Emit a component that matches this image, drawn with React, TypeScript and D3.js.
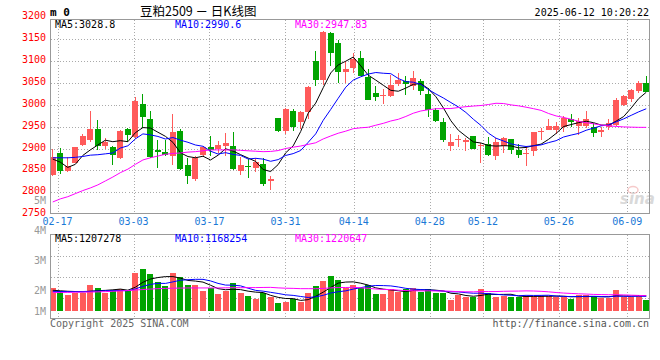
import React from 'react';
import * as d3 from 'd3';

// ---------- data ----------
const dates = [
  '02-14', '02-17', '02-18', '02-19', '02-20', '02-21', '02-24', '02-25', '02-26', '02-27',
  '02-28', '03-03', '03-04', '03-05', '03-06', '03-07', '03-10', '03-11', '03-12', '03-13',
  '03-14', '03-17', '03-18', '03-19', '03-20', '03-21', '03-24', '03-25', '03-26', '03-27',
  '03-28', '03-31', '04-01', '04-02', '04-03', '04-07', '04-08', '04-09', '04-10', '04-11',
  '04-14', '04-15', '04-16', '04-17', '04-18', '04-21', '04-22', '04-23', '04-24', '04-25',
  '04-28', '04-29', '04-30', '05-06', '05-07', '05-08', '05-09', '05-12', '05-13', '05-14',
  '05-15', '05-16', '05-19', '05-20', '05-21', '05-22', '05-23', '05-26', '05-27', '05-28',
  '05-29', '05-30', '06-03', '06-04', '06-05', '06-06', '06-09', '06-10', '06-11', '06-12',
];

const opens = [
  2840, 2891, 2849, 2868, 2908, 2920, 2944, 2905, 2903, 2878,
  2945, 2926, 3002, 2968, 2897, 2892, 2884, 2941, 2862, 2830,
  2885, 2903, 2899, 2906, 2906, 2849, 2860, 2855, 2865, 2826,
  2970, 2941, 2987, 2960, 2983, 3101, 3056, 3164, 3142, 3076,
  3084, 3107, 3064, 3028, 3020, 3020, 3048, 3054, 3042, 3055,
  3025, 2988, 2960, 2905, 2920, 2916, 2928, 2905, 2911, 2884,
  2906, 2921, 2897, 2889, 2895, 2937, 2943, 2943, 2949, 2968,
  2952, 2951, 2950, 2938, 2949, 2954, 3000, 3014, 3031, 3051,
];
const highs = [
  2898, 2901, 2880, 2904, 2933, 2986, 2966, 2925, 2906, 2943,
  2948, 3018, 3025, 2985, 2919, 2920, 2980, 2945, 2878, 2882,
  2906, 2929, 2918, 2935, 2937, 2880, 2876, 2878, 2878, 2838,
  2971, 2993, 2990, 2987, 3043, 3123, 3170, 3166, 3148, 3100,
  3119, 3124, 3082, 3042, 3036, 3068, 3072, 3065, 3077, 3060,
  3038, 2993, 2970, 2934, 2932, 2924, 2929, 2913, 2927, 2925,
  2926, 2922, 2911, 2907, 2938, 2948, 2968, 2960, 2975, 2979,
  2970, 2987, 2958, 2949, 2968, 3015, 3023, 3036, 3055, 3067,
];
const lows = [
  2837, 2843, 2847, 2866, 2906, 2916, 2897, 2900, 2862, 2876,
  2914, 2922, 2947, 2878, 2855, 2883, 2862, 2850, 2820, 2826,
  2882, 2884, 2889, 2882, 2852, 2840, 2833, 2846, 2814, 2806,
  2938, 2933, 2940, 2944, 2968, 3042, 3046, 3090, 3051, 3051,
  3074, 3065, 3010, 3008, 3001, 3018, 3042, 3023, 3034, 3022,
  2973, 2960, 2916, 2895, 2903, 2895, 2898, 2866, 2883, 2874,
  2889, 2888, 2879, 2861, 2884, 2920, 2942, 2933, 2939, 2949,
  2931, 2948, 2926, 2926, 2943, 2952, 2998, 3006, 3027, 3031,
];
const closes = [
  2881, 2849, 2860, 2903, 2929, 2944, 2905, 2915, 2886, 2941,
  2932, 3008, 2973, 2881, 2893, 2885, 2939, 2854, 2838, 2879,
  2903, 2896, 2908, 2912, 2853, 2862, 2857, 2870, 2819, 2830,
  2941, 2991, 2950, 2983, 3040, 3056, 3167, 3119, 3075, 3082,
  3104, 3066, 3012, 3019, 3023, 3046, 3056, 3048, 3062, 3031,
  2988, 2964, 2920, 2915, 2922, 2920, 2899, 2908, 2886, 2916,
  2924, 2897, 2885, 2891, 2937, 2941, 2952, 2952, 2970, 2960,
  2963, 2968, 2935, 2943, 2958, 3011, 3020, 3033, 3050, 3030,
];
const volumes = [
  1850000, 1600000, 1280000, 1460000, 1460000, 2090000, 1850000, 1410000, 1680000, 1760000,
  1630000, 3090000, 3390000, 3010000, 2360000, 2010000, 3090000, 2760000, 2090000, 2090000,
  1600000, 1820000, 1380000, 1630000, 2280000, 1460000, 1200000, 980000, 1460000, 1140000,
  650000, 730000, 930000, 730000, 1460000, 2010000, 2410000, 2850000, 2500000, 1870000,
  2090000, 1870000, 2090000, 1360000, 1360000, 1760000, 1540000, 1740000, 1850000, 1540000,
  1800000, 1400000, 1460000, 900000, 1280000, 1140000, 1090000, 1800000, 1400000, 1140000,
  1200000, 1140000, 1090000, 1200000, 1200000, 1200000, 1200000, 1140000, 1140000, 980000,
  1250000, 1250000, 1140000, 1010000, 1010000, 1680000, 1140000, 1090000, 1250000, 876000,
];

// moving-average values visible before enough closes exist in the window
const priceMa5Lead = [2876, 2869, 2857, 2864];
const priceMa10Lead = [2879, 2879, 2879, 2880, 2882, 2885, 2886, 2888, 2890];
const priceMa30Lead = [
  2778, 2785, 2790, 2797, 2804, 2810, 2817, 2826, 2835, 2845,
  2853, 2864, 2874, 2879, 2883, 2887, 2889, 2890, 2892, 2893,
  2895, 2897, 2897, 2897, 2897, 2896, 2895, 2894, 2893,
];
const volMa5Lead = [1660000, 1620000, 1580000, 1560000];
const volMa10Lead = [1580000, 1560000, 1550000, 1550000, 1560000, 1580000, 1600000, 1620000, 1630000];
const volMa30Lead = [
  1470000, 1480000, 1490000, 1500000, 1510000, 1520000, 1530000, 1550000, 1580000, 1610000,
  1640000, 1680000, 1720000, 1760000, 1790000, 1810000, 1830000, 1840000, 1850000, 1850000,
  1850000, 1850000, 1850000, 1860000, 1870000, 1870000, 1880000, 1880000, 1890000,
];

const priceTicks = [2750, 2800, 2850, 2900, 2950, 3000, 3050, 3100, 3150, 3200];
const priceGrid = [2800, 2850, 2900, 2950, 3000, 3050, 3100, 3150];
const dateTicks = ['02-17', '03-03', '03-17', '03-31', '04-14', '04-28', '05-12', '05-26', '06-09'];
const volTickLabels = ['1M', '2M', '3M', '4M', '5M'];

const titleText = '豆粕2509 － 日K线图';
const timeText = '2025-06-12 10:20:22';
const priceMaTexts = ['MA5:3028.8', 'MA10:2990.6', 'MA30:2947.83'];
const volMaTexts = ['MA5:1207278', 'MA10:1168254', 'MA30:1220647'];

// ---------- styling ----------
const RED = '#ff5a5a';
const GREEN = '#00a400';
const MA_COLORS = ['#000000', '#0000ff', '#ff00ff'];
const MONO = '"DejaVu Sans Mono", monospace';
const GRID = '#aaaaaa';
const BORDER = '#999999';

function movingAvg(arr: number[], n: number, lead: number[]) {
  return arr.map((_, i) => (i >= n - 1 ? (d3.mean(arr.slice(i - n + 1, i + 1)) as number) : lead[i]));
}

export default function App() {
  const W = 660;
  const H = 360;
  const n = closes.length;
  const idx = d3.range(n);

  const L = 50.5;
  const R = 649.5;
  const pTop = 19.5;
  const pBot = 213.5;
  const vTop = 234.5;
  const vBot = 318.5;

  const xBand = d3.scaleBand<number>().domain(idx).range([49, 650]).paddingInner(0.2).paddingOuter(0.1);
  const bw = xBand.bandwidth();
  const cx = (i: number) => (xBand(i) as number) + bw / 2;
  const xGrid = d3.scaleLinear().domain([0, n - 1]).range([50, 650]);

  const yP = d3.scaleLinear().domain([2750, 3200]).range([214.2, 17.4]);
  const yV = d3.scaleLinear().domain([0, 6.18e6]).range([310.7, 234.7]);
  const yVolLabel = d3.scaleLinear().domain([1, 5]).range([324, 204]);

  const pMa = [
    movingAvg(closes, 5, priceMa5Lead),
    movingAvg(closes, 10, priceMa10Lead),
    movingAvg(closes, 30, priceMa30Lead),
  ];
  const vMa = [
    movingAvg(volumes, 5, volMa5Lead),
    movingAvg(volumes, 10, volMa10Lead),
    movingAvg(volumes, 30, volMa30Lead),
  ];

  const pLine = (vals: number[]) =>
    d3.line<number>().x((_, i) => cx(i)).y((v) => yP(v))(vals) || '';
  const vLine = (vals: number[]) =>
    d3.line<number>().x((_, i) => cx(i)).y((v) => yV(v))(vals) || '';

  const tickIdx = dateTicks.map((d) => dates.indexOf(d));
  const hVolGrid = d3.range(1, 4).map((k) => vTop + ((vBot - vTop) * k) / 4);
  const maX = [55, 175, 295];

  return (
    <svg
      width={W}
      height={H}
      style={{ position: 'absolute', left: 0, top: 0, background: '#fff' }}
      fontFamily={MONO}
    >
      {/* header */}
      <text x={50} y={16} fontSize={11} fontWeight="bold" fill="#000">m 0</text>
      <text x={140} y={16} fontSize={12.5} fontFamily='"Noto Sans CJK SC", sans-serif' fill="#000">
        {titleText}
      </text>
      <text x={649} y={16} fontSize={10} textAnchor="end" fill="#000">{timeText}</text>

      {/* price gridlines */}
      <g stroke={GRID} strokeWidth={1} strokeDasharray="1,2" shapeRendering="crispEdges">
        {priceGrid.map((v) => (
          <line key={'pg' + v} x1={L} x2={R} y1={Math.round(yP(v)) + 0.5} y2={Math.round(yP(v)) + 0.5} />
        ))}
        {tickIdx.map((i) => (
          <line key={'pv' + i} x1={Math.round(xGrid(i)) + 0.5} x2={Math.round(xGrid(i)) + 0.5} y1={pTop} y2={pBot} />
        ))}
        {hVolGrid.map((y) => (
          <line key={'vg' + y} x1={L} x2={R} y1={Math.round(y) + 0.5} y2={Math.round(y) + 0.5} />
        ))}
        {tickIdx.map((i) => (
          <line key={'vv' + i} x1={Math.round(xGrid(i)) + 0.5} x2={Math.round(xGrid(i)) + 0.5} y1={vTop} y2={vBot} />
        ))}
      </g>

      {/* watermark */}
      <g opacity={0.55}>
        <ellipse cx={633} cy={190} rx={5} ry={3.5} fill="none" stroke="#f0a0a0" strokeWidth={1.5} />
        <text x={620} y={204} fontSize={15} fontStyle="italic" fontWeight="bold" fontFamily="'DejaVu Sans', sans-serif" fill="#bbbbbb">
          sina
        </text>
      </g>

      {/* candles */}
      <g shapeRendering="crispEdges">
        {idx.map((i) => {
          const up = closes[i] >= opens[i];
          const col = up ? RED : GREEN;
          const x = cx(i);
          const top = yP(Math.max(opens[i], closes[i]));
          const bot = yP(Math.min(opens[i], closes[i]));
          return (
            <g key={'c' + i}>
              <line x1={x} x2={x} y1={yP(highs[i])} y2={yP(lows[i])} stroke={col} strokeWidth={1} />
              <rect x={xBand(i)} y={top} width={bw} height={Math.max(1, bot - top)} fill={col} />
            </g>
          );
        })}
      </g>

      {/* price MAs */}
      {pMa.map((vals, k) => (
        <path key={'pma' + k} d={pLine(vals)} fill="none" stroke={MA_COLORS[k]} strokeWidth={1} />
      ))}

      {/* volume bars */}
      <g shapeRendering="crispEdges">
        {idx.map((i) => {
          const up = closes[i] >= opens[i];
          return (
            <rect
              key={'v' + i}
              x={xBand(i)}
              y={yV(volumes[i])}
              width={bw}
              height={yV(0) - yV(volumes[i])}
              fill={up ? RED : GREEN}
            />
          );
        })}
      </g>
      {vMa.map((vals, k) => (
        <path key={'vma' + k} d={vLine(vals)} fill="none" stroke={MA_COLORS[k]} strokeWidth={1} />
      ))}

      {/* frames */}
      <g fill="none" stroke={BORDER} strokeWidth={1} shapeRendering="crispEdges">
        <rect x={L} y={pTop} width={R - L} height={pBot - pTop} />
        <rect x={L} y={vTop} width={R - L} height={vBot - vTop} />
      </g>

      {/* MA legends */}
      {priceMaTexts.map((t, k) => (
        <text key={'pt' + k} x={maX[k]} y={27.5} fontSize={10} fill={MA_COLORS[k]}>{t}</text>
      ))}
      {volMaTexts.map((t, k) => (
        <text key={'vt' + k} x={maX[k]} y={242} fontSize={10} fill={MA_COLORS[k]}>{t}</text>
      ))}

      {/* price axis labels */}
      {priceTicks.map((v) => (
        <text key={'pl' + v} x={46} y={yP(v) + 2} fontSize={10} textAnchor="end" fill="#ff0000">
          {v}
        </text>
      ))}

      {/* volume axis labels */}
      {volTickLabels.map((t, k) => (
        <text key={'vl' + t} x={46} y={Math.min(314.7, yVolLabel(k + 1))} fontSize={10} textAnchor="end" fill="#999999">
          {t}
        </text>
      ))}

      {/* date labels */}
      {dateTicks.map((d, k) => (
        <text key={'d' + d} x={xGrid(tickIdx[k])} y={224.5} fontSize={10} textAnchor="middle" fill="#1a78d6">
          {d}
        </text>
      ))}

      {/* footer */}
      <text x={50} y={327} fontSize={10} fill="#666666">Copyright 2025 SINA.COM</text>
      <text x={649} y={327} fontSize={10} textAnchor="end" fill="#555555">http://finance.sina.com.cn</text>
    </svg>
  );
}
